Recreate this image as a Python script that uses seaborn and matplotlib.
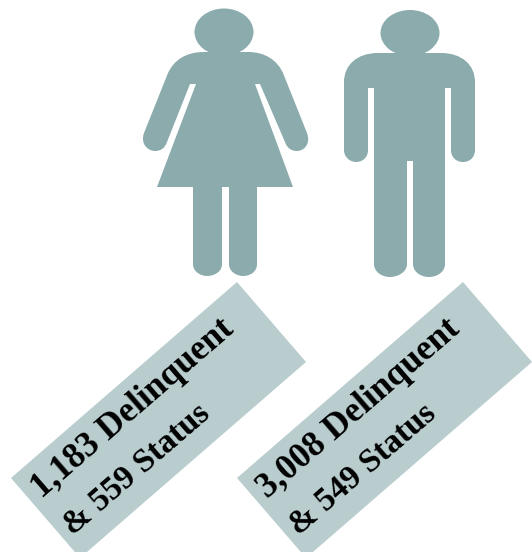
import matplotlib
matplotlib.use('Agg')
import matplotlib.pyplot as plt
from matplotlib.patches import Ellipse, PathPatch, Polygon
from matplotlib.path import Path
import seaborn as sns

# juvenile counts under each figure
groups = ['Female', 'Male']
delinquent = [1183, 3008]
status = [559, 549]

ICON_COLOR = '#8BABAD'
BOX_COLOR = '#B9CDCF'
ANGLE = 40.9

sns.set_theme(style='white')
plt.rcParams['font.family'] = ['Liberation Serif', 'DejaVu Serif']


def shape(points):
    # L = straight line, C = cubic curve (three points)
    verts = []
    codes = []
    for i, p in enumerate(points):
        if p[0] == 'C':
            verts += [p[1], p[2], p[3]]
            codes += [Path.CURVE4] * 3
        else:
            verts.append(p[1])
            codes.append(Path.MOVETO if i == 0 else Path.LINETO)
    verts.append(verts[0])
    codes.append(Path.CLOSEPOLY)
    return Path(verts, codes)


woman = [
    ('L', (204, 52)),
    ('C', (186, 52), (174, 60), (168, 73)),
    ('L', (144, 133)),
    ('C', (140, 144), (148, 151), (155, 151)),
    ('C', (161, 151), (165, 148), (167, 142)),
    ('L', (190, 84)),
    ('L', (196, 84)),
    ('L', (157, 187)),
    ('L', (193, 187)),
    ('L', (193, 264)),
    ('C', (193, 272), (201, 276), (207, 276)),
    ('C', (214, 276), (222, 272), (222, 264)),
    ('L', (222, 187)),
    ('L', (229, 187)),
    ('L', (229, 264)),
    ('C', (229, 272), (237, 276), (243, 276)),
    ('C', (250, 276), (257, 272), (257, 264)),
    ('L', (257, 187)),
    ('L', (293, 187)),
    ('L', (255, 84)),
    ('L', (260, 84)),
    ('L', (285, 142)),
    ('C', (287, 148), (291, 151), (297, 151)),
    ('C', (304, 151), (311, 144), (307, 133)),
    ('L', (283, 73)),
    ('C', (277, 60), (265, 52), (248, 52)),
]

man = [
    ('L', (378, 53)),
    ('C', (357, 53), (344, 65), (344, 82)),
    ('L', (344, 150)),
    ('C', (344, 158), (351, 162), (356, 162)),
    ('C', (362, 162), (368, 158), (368, 150)),
    ('L', (368, 88)),
    ('L', (374, 88)),
    ('L', (374, 264)),
    ('C', (374, 272), (382, 277), (390, 277)),
    ('C', (398, 277), (407, 272), (407, 264)),
    ('L', (407, 161)),
    ('L', (413, 161)),
    ('L', (413, 264)),
    ('C', (413, 272), (421, 277), (429, 277)),
    ('C', (437, 277), (445, 272), (445, 264)),
    ('L', (445, 88)),
    ('L', (451, 88)),
    ('L', (451, 150)),
    ('C', (451, 158), (457, 162), (463, 162)),
    ('C', (469, 162), (475, 158), (475, 150)),
    ('L', (475, 82)),
    ('C', (475, 65), (462, 53), (441, 53)),
]

fig = plt.figure(figsize=(5.32, 5.52), dpi=100)
ax = fig.add_axes([0, 0, 1, 1])
ax.set_xlim(0, 532)
ax.set_ylim(552, 0)
ax.set_axis_off()

# figures
ax.add_patch(Ellipse((224, 32), 59, 47, color=ICON_COLOR, lw=0))
ax.add_patch(PathPatch(shape(woman), fc=ICON_COLOR, ec='none'))
ax.add_patch(Ellipse((410, 33), 59, 46, color=ICON_COLOR, lw=0))
ax.add_patch(PathPatch(shape(man), fc=ICON_COLOR, ec='none'))

# labels on tilted boxes
box_left = [11, 237]
for i in range(len(groups)):
    x = box_left[i]
    ax.add_patch(Polygon([(x, 478), (x + 226, 282), (x + 295, 362), (x + 69, 558)],
                         closed=True, fc=BOX_COLOR, ec='none'))
    ax.text(x + 31, 499, f'{delinquent[i]:,} Delinquent', rotation=ANGLE,
            rotation_mode='anchor', ha='left', va='baseline',
            fontsize=25.5, fontweight='bold', color='black')
    ax.text(x + 62, 536, f'& {status[i]} Status', rotation=ANGLE,
            rotation_mode='anchor', ha='left', va='baseline',
            fontsize=24, fontweight='bold', color='black')

fig.savefig('out.png', dpi=100)
